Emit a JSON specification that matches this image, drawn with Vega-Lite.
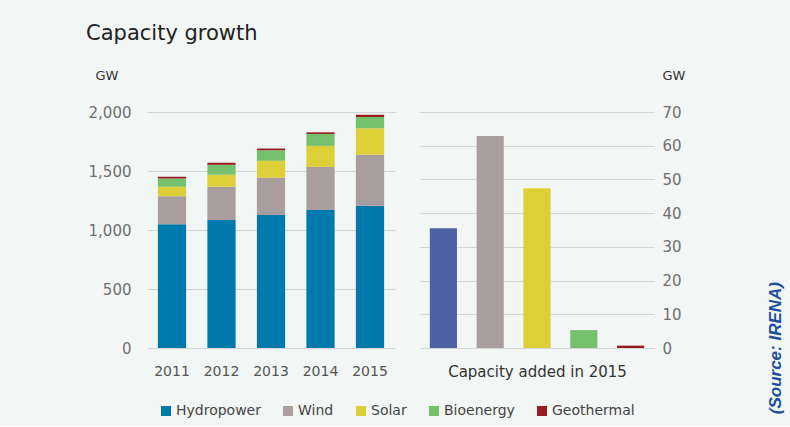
{
  "$schema": "https://vega.github.io/schema/vega-lite/v6.json",
  "background": "#f2f6f4",
  "padding": {"left": 86, "top": 23, "right": 6, "bottom": 8},
  "title": {"text": "Capacity growth", "anchor": "start", "fontSize": 21, "fontWeight": "normal", "color": "#222222", "font": "DejaVu Sans", "offset": 25, "dx": -2},
  "bounds": "flush",
  "spacing": 25,
  "resolve": {"scale": {"color": "independent", "x": "independent", "y": "independent"}},
  "config": {
    "view": {"stroke": null},
    "font": "DejaVu Sans",
    "axis": {"gridColor": "#d2d5d4", "gridWidth": 1, "domain": false, "ticks": false, "labelFont": "DejaVu Sans", "titleFont": "DejaVu Sans"}
  },
  "hconcat": [
    {
      "width": 248,
      "height": 236,
      "data": {"values": [
        {"year": "2011", "source": "Hydropower", "gw": 1048},
        {"year": "2011", "source": "Wind", "gw": 239},
        {"year": "2011", "source": "Solar", "gw": 79},
        {"year": "2011", "source": "Bioenergy", "gw": 71},
        {"year": "2011", "source": "Geothermal", "gw": 14},
        {"year": "2012", "source": "Hydropower", "gw": 1085},
        {"year": "2012", "source": "Wind", "gw": 281},
        {"year": "2012", "source": "Solar", "gw": 102},
        {"year": "2012", "source": "Bioenergy", "gw": 84},
        {"year": "2012", "source": "Geothermal", "gw": 17},
        {"year": "2013", "source": "Hydropower", "gw": 1127},
        {"year": "2013", "source": "Wind", "gw": 315},
        {"year": "2013", "source": "Solar", "gw": 144},
        {"year": "2013", "source": "Bioenergy", "gw": 90},
        {"year": "2013", "source": "Geothermal", "gw": 14},
        {"year": "2014", "source": "Hydropower", "gw": 1169},
        {"year": "2014", "source": "Wind", "gw": 366},
        {"year": "2014", "source": "Solar", "gw": 178},
        {"year": "2014", "source": "Bioenergy", "gw": 101},
        {"year": "2014", "source": "Geothermal", "gw": 14},
        {"year": "2015", "source": "Hydropower", "gw": 1206},
        {"year": "2015", "source": "Wind", "gw": 431},
        {"year": "2015", "source": "Solar", "gw": 225},
        {"year": "2015", "source": "Bioenergy", "gw": 96},
        {"year": "2015", "source": "Geothermal", "gw": 19}
      ]},
      "transform": [
        {"calculate": "indexof(['Hydropower', 'Wind', 'Solar', 'Bioenergy', 'Geothermal'], datum.source)", "as": "stackRank"}
      ],
      "mark": {"type": "bar"},
      "encoding": {
        "x": {"field": "year", "type": "ordinal",
          "scale": {"paddingInner": 0.43, "paddingOuter": 0.22},
          "axis": {"title": null, "labelAngle": 0, "labelFontSize": 14, "labelColor": "#555555", "labelPadding": 16}},
        "y": {"field": "gw", "type": "quantitative", "stack": "zero",
          "scale": {"domain": [0, 2000]},
          "axis": {"values": [0, 500, 1000, 1500, 2000], "format": ",d", "labelFontSize": 15, "labelColor": "#6f6f6f", "labelPadding": 16,
            "title": "GW", "titleAngle": 0, "titleAlign": "left", "titleBaseline": "middle", "titleX": -52, "titleY": -37, "titleFontSize": 13, "titleFontWeight": "normal", "titleColor": "#333333"}},
        "color": {"field": "source", "type": "nominal",
          "sort": ["Hydropower", "Wind", "Solar", "Bioenergy", "Geothermal"],
          "scale": {"domain": ["Hydropower", "Wind", "Solar", "Bioenergy", "Geothermal"], "range": ["#0079ad", "#a99d9e", "#dccf37", "#74c06c", "#9b1c20"]},
          "legend": {"orient": "none", "legendX": 12, "legendY": 292, "direction": "horizontal", "title": null, "symbolType": "square", "symbolSize": 100, "symbolStrokeWidth": 0, "labelFontSize": 14, "labelColor": "#444444", "labelOffset": 3, "columnPadding": 20}},
        "order": {"field": "stackRank", "type": "quantitative", "sort": "ascending"}
      }
    },
    {
      "width": 234,
      "height": 236,
      "title": {"text": "(Source: IRENA)", "orient": "right", "angle": 270, "anchor": "end", "frame": "group", "font": "Liberation Sans", "fontSize": 17, "fontStyle": "italic", "fontWeight": "bold", "color": "#1f4e9c", "offset": 66, "dx": 66},
      "data": {"values": [
        {"source": "Hydropower", "gw": 35.5},
        {"source": "Wind", "gw": 62.9},
        {"source": "Solar", "gw": 47.4},
        {"source": "Bioenergy", "gw": 5.3},
        {"source": "Geothermal", "gw": 0.7}
      ]},
      "mark": {"type": "bar"},
      "encoding": {
        "x": {"field": "source", "type": "nominal", "sort": ["Hydropower", "Wind", "Solar", "Bioenergy", "Geothermal"],
          "scale": {"paddingInner": 0.42, "paddingOuter": 0.21},
          "axis": {"labels": false, "title": "Capacity added in 2015", "titleFontSize": 15, "titleFontWeight": "normal", "titleColor": "#333333", "titlePadding": 16}},
        "y": {"field": "gw", "type": "quantitative",
          "scale": {"domain": [0, 70]},
          "axis": {"orient": "right", "values": [0, 10, 20, 30, 40, 50, 60, 70], "labelFontSize": 15, "labelColor": "#6f6f6f", "labelPadding": 8,
            "title": "GW", "titleAngle": 0, "titleAlign": "left", "titleBaseline": "middle", "titleX": 8, "titleY": -37, "titleFontSize": 13, "titleFontWeight": "normal", "titleColor": "#333333"}},
        "color": {"field": "source", "type": "nominal",
          "scale": {"domain": ["Hydropower", "Wind", "Solar", "Bioenergy", "Geothermal"], "range": ["#4e61a7", "#a99d9e", "#dccf37", "#74c06c", "#9b1c20"]},
          "legend": null}
      }
    }
  ]
}
